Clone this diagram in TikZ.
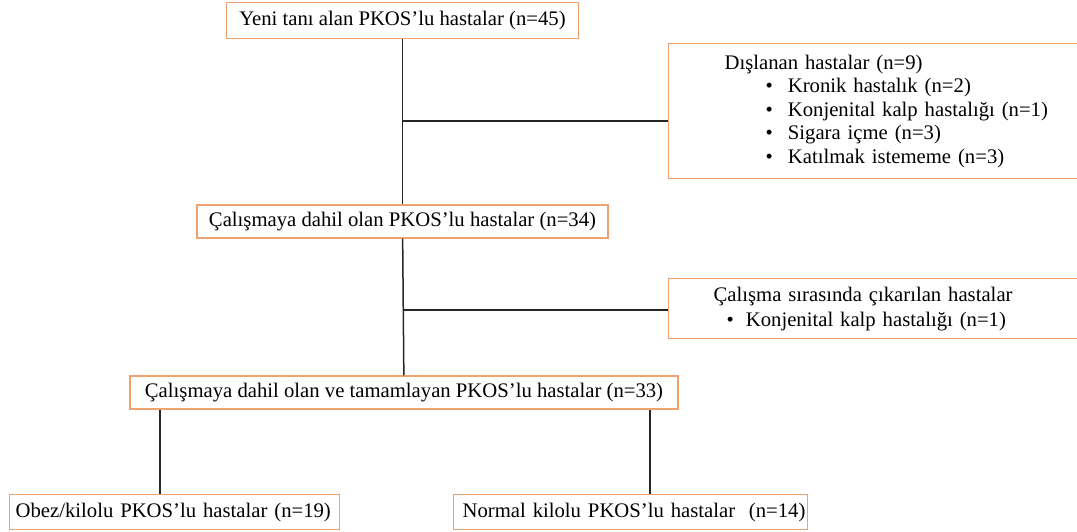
\documentclass[tikz,border=0pt]{standalone}
\usepackage{fontspec}
\setmainfont{Liberation Serif}
\definecolor{boxor}{RGB}{238,162,112}
\begin{document}
\begin{tikzpicture}[x=1pt,y=-1pt,
  box/.style={draw=boxor,line width=1.3pt,inner sep=0pt,font=\fontsize{20.7}{23.5}\selectfont},
  conn/.style={line width=1.5pt,draw=black!85}]
\useasboundingbox (0,0) rectangle (1077,532);
\clip (0,0) rectangle (1077,532);
\node[box,minimum width=352pt,minimum height=36pt] (b1) at (402.5,20.5) {Yeni tanı alan PKOS’lu hastalar (n=45)};
\node[box,minimum width=411pt,minimum height=33pt] (b2) at (402.5,221.5) {Çalışmaya dahil olan PKOS’lu hastalar (n=34)};
\node[box,minimum width=548pt,minimum height=33pt] (b3) at (404,392.5) {Çalışmaya dahil olan ve tamamlayan PKOS’lu hastalar (n=33)};
\node[box,anchor=north west,inner xsep=6pt,text width=318pt,align=left,minimum height=35pt] (b4) at (9,494) {\mbox{Obez/kilolu PKOS’lu hastalar (n=19)}};
\node[box,anchor=north west,inner xsep=9pt,text width=336pt,align=left,minimum height=35pt] (b5) at (453,494) {\mbox{Normal kilolu PKOS’lu hastalar\ \ (n=14)}};
\node[box,anchor=north west,inner xsep=56pt,text width=360pt,align=left,minimum height=135pt] (ex) at (668,43) {Dışlanan hastalar (n=9)\\
\hspace*{41pt}\textbullet\hspace{15pt}Kronik hastalık (n=2)\\
\hspace*{41pt}\textbullet\hspace{15pt}Konjenital kalp hastalığı (n=1)\\
\hspace*{41pt}\textbullet\hspace{15pt}Sigara içme (n=3)\\
\hspace*{41pt}\textbullet\hspace{15pt}Katılmak istememe (n=3)};
\node[box,anchor=north west,inner xsep=45pt,text width=380pt,align=left,minimum height=60pt,font=\fontsize{20.7}{25}\selectfont] (wd) at (668,278) {Çalışma sırasında çıkarılan hastalar\\
\hspace*{13pt}\textbullet\hspace{12pt}Konjenital kalp hastalığı (n=1)};
\coordinate (j1) at (402.5,121);
\coordinate (j2) at (402.5,310);
\coordinate (l1) at (160,0);
\coordinate (l2) at (650,0);
\draw[conn] (b1) -- (b2);
\draw[conn] (b2) -- (b3);
\draw[conn] (j1) -- (j1 -| ex.west);
\draw[conn] (j2) -- (j2 -| wd.west);
\draw[conn] (b3.south -| l1) -- (b4.north -| l1);
\draw[conn] (b3.south -| l2) -- (b5.north -| l2);
\end{tikzpicture}
\end{document}
